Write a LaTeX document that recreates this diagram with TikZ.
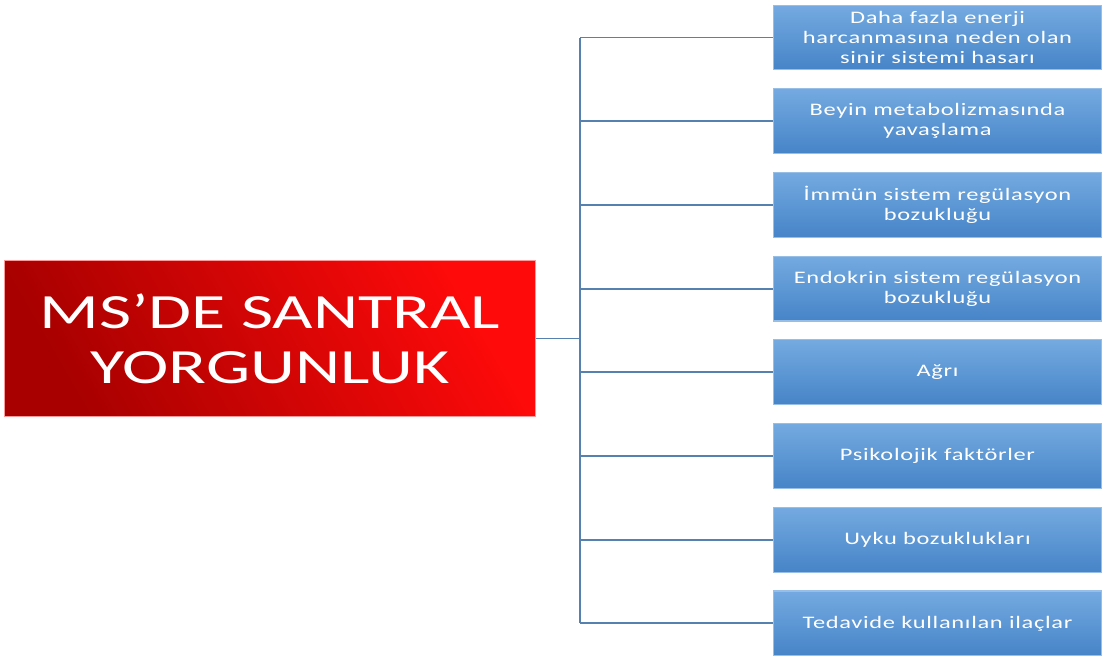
\documentclass[tikz,border=0pt]{standalone}
\usepackage{fontspec}
\setmainfont[LetterSpace=4, FakeStretch=1.39]{Carlito}
\newfontfamily\titlefont[FakeStretch=1.42]{Carlito}
\usepackage{tikz}
\usetikzlibrary{calc}
\definecolor{linkblue}{RGB}{86,128,175}
\definecolor{boxtop}{RGB}{116,170,224}
\definecolor{boxbot}{RGB}{70,132,200}
\definecolor{boxedge}{RGB}{150,190,230}
\definecolor{rootdark}{RGB}{168,0,0}
\definecolor{rootlight}{RGB}{255,10,10}
\tikzset{link/.style={draw=linkblue, line width=1.4pt}}
\tikzset{causebox/.style={rectangle, draw=boxedge, line width=0.8pt, top color=boxtop,
    bottom color=boxbot, text=white, align=center, minimum width=8.2cm,
    minimum height=1.62cm, inner sep=1pt, font=\fontsize{12.5}{14.3}\selectfont}}
\tikzset{rootbox/.style={rectangle, draw=red!40, line width=0.8pt, shading=axis,
    left color=rootdark, right color=rootlight, shading angle=120, text=white,
    align=center, minimum width=13.25cm, minimum height=3.92cm,
    font=\titlefont\fontsize{35}{39}\selectfont}}

\begin{document}
\begin{tikzpicture}[x=0.025cm, y=-0.025cm]
  \useasboundingbox (0, 0) rectangle (1107, 659);

  \node[rootbox] at (270, 338.5) (root) {MS’DE SANTRAL\\YORGUNLUK};
  \coordinate (trunk) at (580, 338.5);

  \foreach \t [count=\i] in {{Daha fazla enerji\\harcanmasına neden olan\\sinir sistemi hasarı},
      {Beyin metabolizmasında\\yavaşlama}, {İmmün sistem regülasyon\\bozukluğu},
      {Endokrin sistem regülasyon\\bozukluğu}, {Ağrı}, {Psikolojik faktörler},
      {Uyku bozuklukları}, {Tedavide kullanılan ilaçlar}} {
    \node[causebox] at (937.5, 37.5+83.7*\i-83.7) (c\i) {\t};
    \draw[link] (trunk |- c\i) -- (c\i.west);
  }

  \draw[link] (root.east) -- (trunk);
  \draw[link] (trunk |- c1) -- (trunk |- c8);
\end{tikzpicture}
\end{document}
